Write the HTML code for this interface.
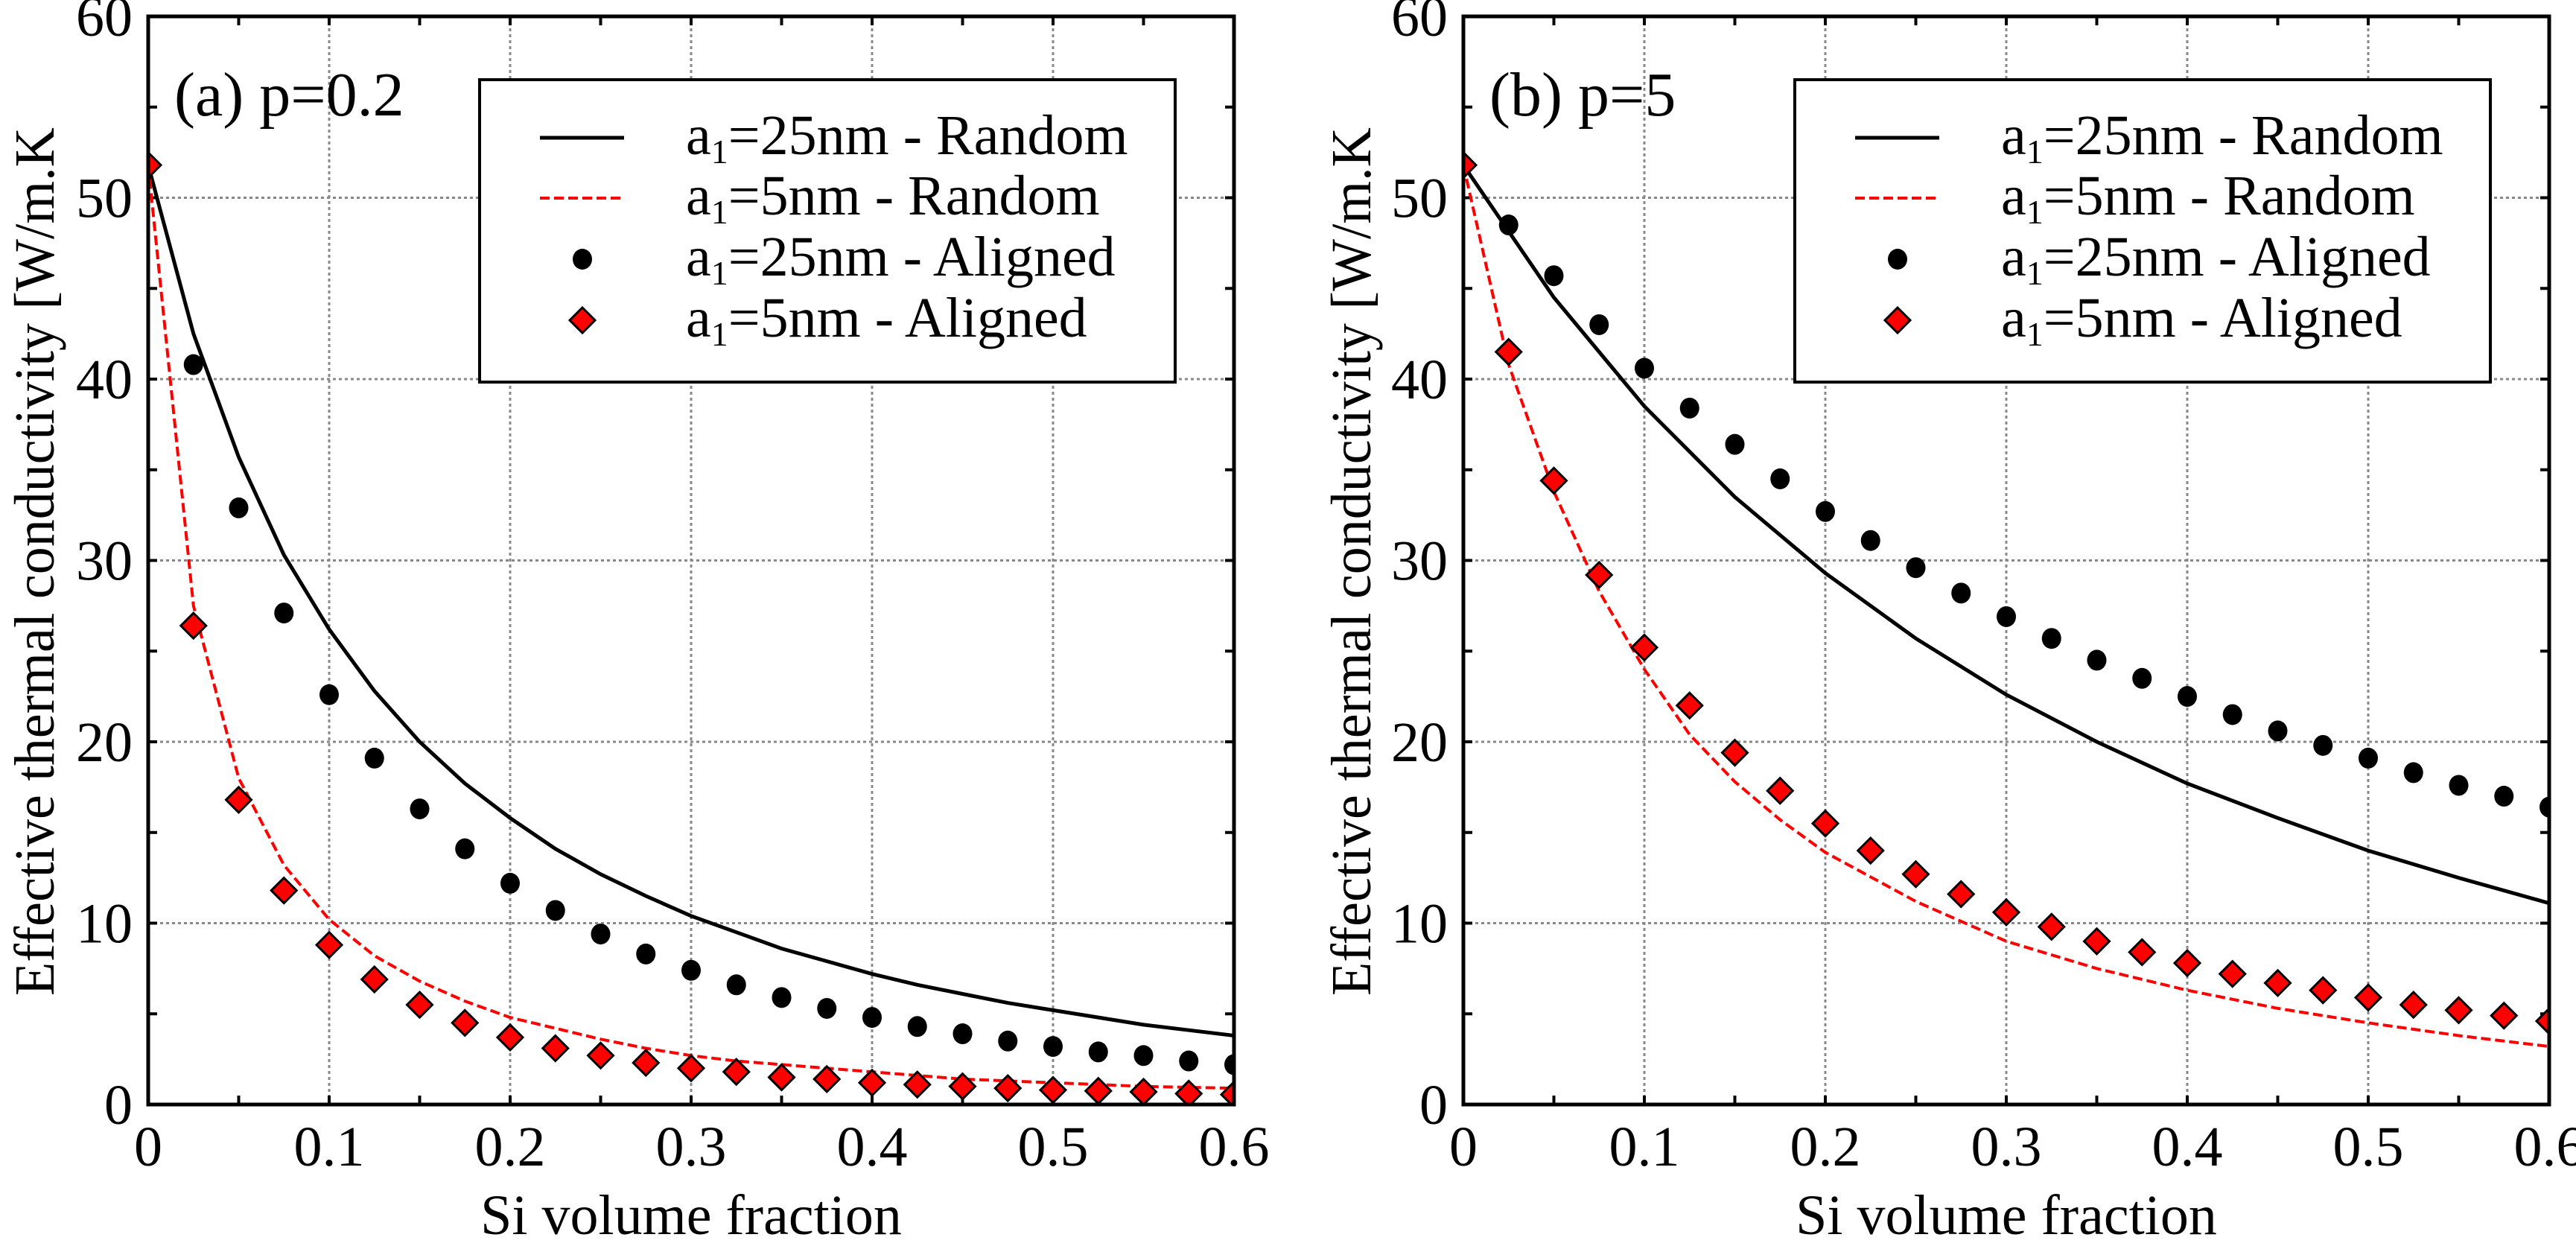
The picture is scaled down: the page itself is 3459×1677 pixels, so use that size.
<!DOCTYPE html>
<html><head><meta charset="utf-8"><style>
html,body{margin:0;padding:0;background:#fff}
svg{display:block}
text,tspan{font-family:"Liberation Serif","DejaVu Serif",serif;fill:#000}
</style></head><body>
<svg id="chart" width="3459" height="1677" viewBox="0 0 3459 1677" xmlns="http://www.w3.org/2000/svg" font-family="Liberation Serif, DejaVu Serif, serif"></svg>
<script>
// ---- data ----
const xPts = [0,0.025,0.05,0.075,0.1,0.125,0.15,0.175,0.2,0.225,0.25,0.275,0.3,0.325,0.35,0.375,0.4,0.425,0.45,0.475,0.5,0.525,0.55,0.575,0.6];
const xTickLabels = ["0","0.1","0.2","0.3","0.4","0.5","0.6"];
const yTickLabels = ["0","10","20","30","40","50","60"];
const panelTitles = ["(a) p=0.2","(b) p=5"];
// panel a (p=0.2)
const aLine25 = [51.8,42.5,35.7,30.3,26.2,22.8,20.0,17.7,15.8,14.1,12.7,11.5,10.4,9.5,8.6,7.9,7.2,6.6,6.1,5.6,5.2,4.8,4.4,4.1,3.8];
const aLine5  = [51.8,27.5,18.0,13.2,10.2,8.2,6.8,5.7,4.8,4.2,3.6,3.1,2.7,2.4,2.2,2.0,1.8,1.6,1.4,1.3,1.2,1.1,1.0,0.95,0.9];
const aDots25 = [51.8,40.8,32.9,27.1,22.6,19.1,16.3,14.1,12.2,10.7,9.4,8.3,7.4,6.6,5.9,5.3,4.8,4.3,3.9,3.5,3.2,2.9,2.7,2.4,2.2];
const aDiam5  = [51.8,26.4,16.8,11.8,8.8,6.9,5.5,4.5,3.7,3.1,2.7,2.3,2.0,1.8,1.5,1.4,1.2,1.1,1.0,0.9,0.8,0.75,0.7,0.6,0.55];
// panel b (p=5)
const bLine25X = [0,0.05,0.1,0.15,0.2,0.25,0.3,0.35,0.4,0.45,0.5,0.55,0.6];
const bLine25 = [51.8,44.5,38.5,33.5,29.3,25.7,22.6,20.0,17.7,15.8,14.0,12.5,11.1];
const bLine5X = [0,0.025,0.05,0.075,0.1,0.125,0.15,0.175,0.2,0.25,0.3,0.35,0.4,0.45,0.5,0.55,0.6];
const bLine5  = [51.8,40.8,33.8,28.3,24.0,20.4,17.8,15.7,13.9,11.2,9.0,7.5,6.3,5.3,4.5,3.8,3.2];
const bDots25 = [51.8,48.5,45.7,43.0,40.6,38.4,36.4,34.5,32.7,31.1,29.6,28.2,26.9,25.7,24.5,23.5,22.5,21.5,20.6,19.8,19.1,18.3,17.6,17.0,16.4];
const bDiam5  = [51.8,41.5,34.4,29.2,25.2,22.0,19.4,17.3,15.5,14.0,12.7,11.6,10.6,9.8,9.0,8.4,7.8,7.2,6.7,6.3,5.9,5.5,5.2,4.9,4.6];
const legendLabels = ["25nm - Random","5nm - Random","25nm - Aligned","5nm - Aligned"];

const NS="http://www.w3.org/2000/svg";
const FF='Liberation Serif, DejaVu Serif, serif';
const svg=document.getElementById('chart');
function mk(tag,attrs,parent){const e=document.createElementNS(NS,tag);for(const k in attrs)e.setAttribute(k,attrs[k]);(parent||svg).appendChild(e);return e;}

const panels=[
 {ox:0, title:panelTitles[0], line25X:xPts, line25:aLine25, line5X:xPts, line5:aLine5, dots:aDots25, diam:aDiam5, id:'a'},
 {ox:1766, title:panelTitles[1], line25X:bLine25X, line25:bLine25, line5X:bLine5X, line5:bLine5, dots:bDots25, diam:bDiam5, id:'b'}
];
const L0=199,R0=1657,T=22,B=1483;

panels.forEach((p,pi)=>{
  const L=L0+p.ox,R=R0+p.ox;
  const xs=v=>L+v/0.6*(R-L);
  const ys=v=>B-v/60*(B-T);
  const g=mk('g',{'font-family':FF});
  
  
  const cp=mk('clipPath',{id:'clip'+pi},g);
  mk('rect',{x:L,y:T,width:R-L,height:B-T},cp);
  // grid
  const grid=mk('g',{stroke:'#888','stroke-width':3,'stroke-dasharray':'4 4'},g);
  
  
  for(let i=1;i<6;i++){mk('line',{x1:xs(i*0.1),x2:xs(i*0.1),y1:T,y2:B},grid);mk('line',{x1:L,x2:R,y1:ys(i*10),y2:ys(i*10)},grid);}
  // ticks
  const tk=mk('g',{stroke:'#000','stroke-width':4},g);
  for(let i=1;i<12;i++){const x=xs(i*0.05);mk('line',{x1:x,x2:x,y1:B,y2:B-12},tk);mk('line',{x1:x,x2:x,y1:T,y2:T+12},tk);}
  for(let i=1;i<12;i++){const y=ys(i*5);mk('line',{x1:L,x2:L+12,y1:y,y2:y},tk);mk('line',{x1:R,x2:R-12,y1:y,y2:y},tk);}
  // tick labels
  xTickLabels.forEach((t,i)=>{const e=mk('text',{x:xs(i*0.1),y:1565,'font-size':76,'text-anchor':'middle','font-family':FF},g);e.textContent=t;
    });
  yTickLabels.forEach((t,i)=>{const e=mk('text',{x:L-21,y:ys(i*10)+26,'font-size':76,'text-anchor':'end','font-family':FF},g);e.textContent=t;
    });
  // axis titles
  const xt=mk('text',{x:L+729,y:1657,'font-size':76,'text-anchor':'middle','font-family':FF},g);xt.textContent='Si volume fraction';
  
  const yx=(pi===0?72:1840);
  const yt=mk('text',{x:0,y:0,'font-size':76,transform:`translate(${yx},1337) rotate(-90)`,textLength:1166,lengthAdjust:'spacingAndGlyphs','font-family':FF},g);
  yt.textContent='Effective thermal conductivity [W/m.K';
  
  // series
  const sg=mk('g',{'clip-path':`url(#clip${pi})`},g);
  const path=(X,Y)=>X.map((x,i)=>(i?'L':'M')+xs(x).toFixed(1)+','+ys(Y[i]).toFixed(1)).join('');
  const l25=mk('path',{d:path(p.line25X,p.line25),fill:'none',stroke:'#000','stroke-width':5},sg);
  
  const l5=mk('path',{d:path(p.line5X,p.line5),fill:'none',stroke:'#f00','stroke-width':4,'stroke-dasharray':'13 6'},sg);
  
  p.dots.forEach((v,i)=>{const c=mk('ellipse',{cx:xs(xPts[i]),cy:ys(v),rx:13,ry:14,fill:'#000'},sg);
    });
  p.diam.forEach((v,i)=>{const x=xs(xPts[i]),y=ys(v);
    const d=mk('polygon',{points:`${x},${y-17} ${x+17},${y} ${x},${y+17} ${x-17},${y}`,fill:'#f00',stroke:'#000','stroke-width':3},sg);
    });
  // frame
  const fr=mk('rect',{x:L,y:T,width:R-L,height:B-T,fill:'none',stroke:'#000','stroke-width':5},g);
  
  // panel title
  const pt=mk('text',{x:L+35,y:155,'font-size':84,'font-family':FF},g);pt.textContent=p.title;
  
  // legend
  const lx=644+p.ox;
  const lg=mk('g',{'font-family':FF},g);
  
  mk('rect',{x:lx,y:107,width:934,height:406,fill:'#fff',stroke:'#000','stroke-width':4},lg);
  const rows=[207,288,370,452];
  const sx=lx+81,ex=lx+194,mx=lx+138;
  mk('line',{x1:sx,x2:ex,y1:rows[0]-22,y2:rows[0]-22,stroke:'#000','stroke-width':5},lg);
  mk('line',{x1:sx,x2:ex,y1:rows[1]-22,y2:rows[1]-22,stroke:'#f00','stroke-width':4,'stroke-dasharray':'13 6'},lg);
  mk('ellipse',{cx:mx,cy:rows[2]-22,rx:13,ry:14,fill:'#000'},lg);
  mk('polygon',{points:`${mx},${rows[3]-39} ${mx+17},${rows[3]-22} ${mx},${rows[3]-5} ${mx-17},${rows[3]-22}`,fill:'#f00',stroke:'#000','stroke-width':3},lg);
  legendLabels.forEach((lab,i)=>{
    const t=mk('text',{x:lx+277,y:rows[i],'font-size':76,'font-family':FF},lg);
    
    const a=mk('tspan',{'font-family':FF},t);a.textContent='a';
    const s=mk('tspan',{'font-size':46,dy:12,'font-family':FF},t);s.textContent='1';
    const r=mk('tspan',{dy:-12,'font-family':FF},t);r.textContent='='+lab;
  });
});
</script>
</body></html>
